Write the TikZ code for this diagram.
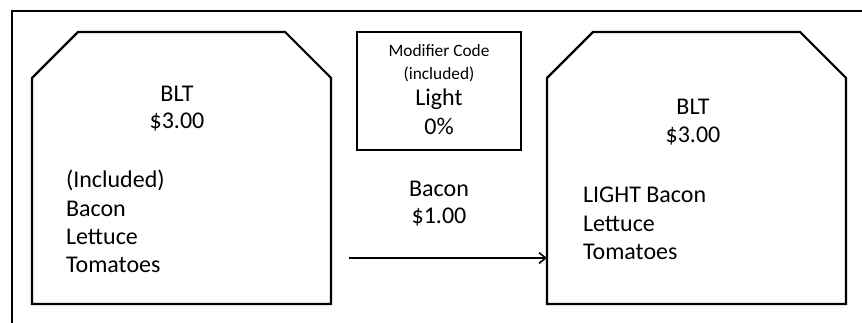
\documentclass[tikz,border=0pt]{standalone}
\usepackage{fontspec}
\setmainfont{Carlito}
\usetikzlibrary{arrows.meta}

\begin{document}
\begin{tikzpicture}[x=0.75pt, y=-0.75pt, line width=1.6pt,
  every node/.style={font=\fontsize{18}{22}\selectfont, inner sep=0pt},
  small/.style={font=\fontsize{13}{16}\selectfont}]
\useasboundingbox (0,0) rectangle (862,323);
\draw[line width=1.9pt] (12,323) -- (12,11) -- (862,11);
% left item
\draw (32,304) -- (32,78) -- (78,32) -- (285,32) -- (331,78) -- (331,304) -- cycle;
\node[anchor=base] (blt1) at (177,102) {BLT};
\node[anchor=base] (price1) at (177,129) {\$3.00};
\node[anchor=base west] (incl1) at (65,188) {(Included)};
\node[anchor=base west] (bacon1) at (65,217) {Bacon};
\node[anchor=base west] (lett1) at (65,245) {Lettuce};
\node[anchor=base west] (tom1) at (65,273) {Tomatoes};
% modifier
\draw (357,32) rectangle (521,150);
\node[anchor=base,small] (mcode) at (439,57) {Modifier Code};
\node[anchor=base,small] (mincl) at (439,80) {(included)};
\node[anchor=base] (light) at (439,106) {Light};
\node[anchor=base] (pct) at (439,135) {0\%};
\node[anchor=base] (bacon) at (439,197) {Bacon};
\node[anchor=base] (bprice) at (439,224) {\$1.00};
% right item
\draw (547,304) -- (547,78) -- (593,32) -- (800,32) -- (846,78) -- (846,304) -- cycle;
\node[anchor=base] (blt2) at (693,115) {BLT};
\node[anchor=base] (price2) at (693,143) {\$3.00};
\node[anchor=base west] (lbacon2) at (582,203) {LIGHT Bacon};
\node[anchor=base west] (lett2) at (582,232) {Lettuce};
\node[anchor=base west] (tom2) at (582,260) {Tomatoes};
\coordinate (from) at (349,258);
\coordinate (to) at (547,258);
\draw[line width=1.2pt, -{Straight Barb[length=5pt,width=8pt]}] (from) -- (to);
\end{tikzpicture}
\end{document}
